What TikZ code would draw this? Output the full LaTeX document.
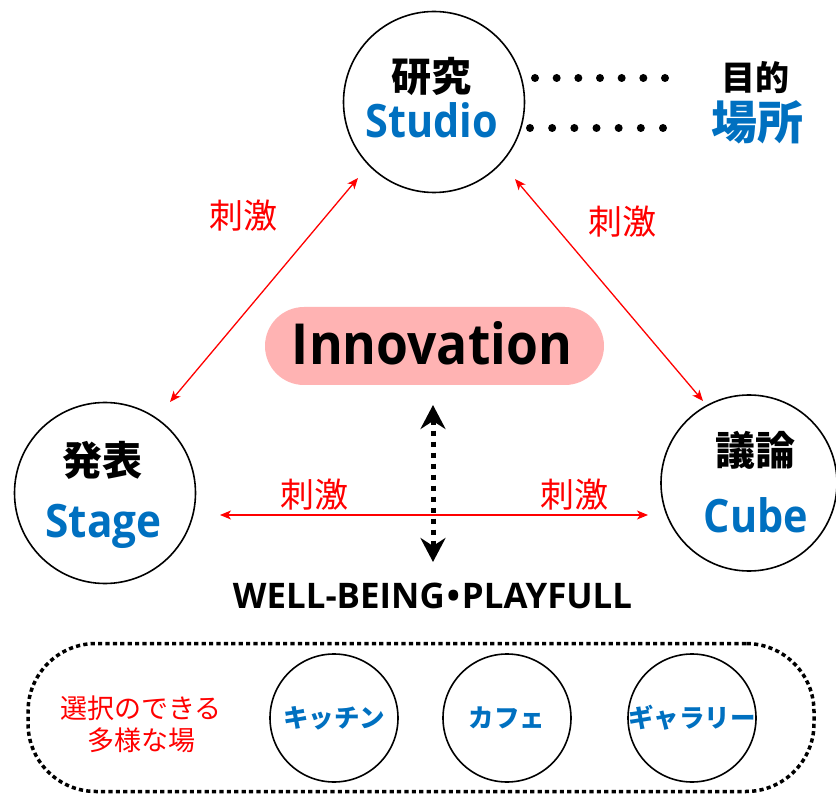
\documentclass[tikz,border=0pt]{standalone}
\usepackage{fontspec}
\usepackage{graphicx}
\setmainfont{Open Sans}
\newfontfamily\jp{Noto Sans CJK JP}
\usetikzlibrary{arrows.meta}
\definecolor{mblue}{HTML}{0070C0}
\definecolor{mred}{HTML}{FF0000}
\definecolor{mpink}{HTML}{FFB3B3}
\begin{document}
\begin{tikzpicture}[x=1pt,y=-1pt,
  bigcirc/.style={draw, circle, line width=1.6pt, minimum size=181pt, inner sep=0pt},
  smallcirc/.style={draw, circle, line width=1.6pt, minimum size=128pt, inner sep=0pt},
  jptitle/.style={inner sep=0pt, font=\jp\bfseries\fontsize{40pt}{40pt}\selectfont},
  entitle/.style={inner sep=0pt, anchor=base, text=mblue, font=\bfseries\fontsize{46pt}{46pt}\selectfont},
  stim/.style={inner sep=0pt, text=mred, font=\jp\fontsize{34pt}{34pt}\selectfont},
  place/.style={inner sep=0pt, text=mblue, font=\jp\bfseries\fontsize{25.5pt}{25.5pt}\selectfont},
  redarrow/.style={draw=mred, line width=1.3pt, {Stealth[length=11pt,width=9pt,inset=3pt]}-{Stealth[length=11pt,width=9pt,inset=3pt]}},
  dotrow/.style={line width=8pt, line cap=round, dash pattern=on 0pt off 21.667pt},
]
\useasboundingbox (0,0) rectangle (836,794);

% main circles
\node[bigcirc] (studio) at (434,102) {};
\node[bigcirc] (stage) at (105,493) {};
\node[bigcirc, minimum size=176pt] (cube) at (749,483) {};

\node[jptitle] (kenkyu) at (431,76) {研究};
\node[entitle] (studiot) at (432,138) {\scalebox{0.9}[1]{Studio}};
\node[jptitle] (happyo) at (102,460) {発表};
\node[entitle] (staget) at (103.5,537) {\scalebox{0.92}[1]{Stage}};
\node[jptitle] (giron) at (755,450) {議論};
\node[entitle] (cubet) at (756,532) {\scalebox{0.9}[1]{Cube}};

% purpose / place
\node[inner sep=0pt, font=\jp\bfseries\fontsize{34pt}{34pt}\selectfont] (mokuteki) at (755,78) {目的};
\node[inner sep=0pt, text=mblue, font=\jp\bfseries\fontsize{46pt}{46pt}\selectfont] (basho) at (757,122) {場所};
\coordinate (e1) at (535,78); \coordinate (e2) at (665.2,78);
\coordinate (f1) at (530,128); \coordinate (f2) at (663.2,128);
\draw[dotrow, dash pattern=on 0pt off 21.667pt] (e1) -- (e2);
\draw[dotrow, dash pattern=on 0pt off 22.167pt] (f1) -- (f2);

% red stimulus arrows
\coordinate (a1) at (358,178); \coordinate (a2) at (170,402);
\coordinate (b1) at (515,179); \coordinate (b2) at (703,401);
\coordinate (c1) at (220,515); \coordinate (c2) at (648,515);
\draw[redarrow] (a1) -- (a2);
\draw[redarrow] (b1) -- (b2);
\draw[redarrow] (c1) -- (c2);
\node[stim] (s1) at (243,216) {刺激};
\node[stim] (s2) at (622,222) {刺激};
\node[stim] (s3) at (314,495) {刺激};
\node[stim] (s4) at (574,495) {刺激};

% innovation
\node[fill=mpink, rounded corners=39pt, minimum width=339pt, minimum height=78pt, inner sep=0pt] (innov) at (434.5,346) {};
\node[inner sep=0pt, anchor=base, font=\bfseries] (innovt) at (432,365) {\resizebox{280pt}{43pt}{Innovation}};

% dotted vertical arrow
\coordinate (d1) at (433,405); \coordinate (d2) at (433,562);
\draw[line width=5pt, dash pattern=on 5.5pt off 5.5pt, {Stealth[length=24pt,width=25pt,inset=8pt]}-{Stealth[length=24pt,width=25pt,inset=8pt]}] (d1) -- (d2);

\node[inner sep=0pt, anchor=base, font=\bfseries] (wb) at (432.5,608) {\resizebox{399pt}{25.5pt}{WELL-BEING\kern0.06em•\kern0.06em PLAYFULL}};

% bottom group
\node[draw, line width=3.5pt, dash pattern=on 4.2pt off 3.2pt, rounded corners=68pt, minimum width=786pt, minimum height=148pt, inner sep=0pt] (group) at (421,717.5) {};
\node[inner sep=0pt, align=center, text=mred, font=\jp\fontsize{27pt}{32pt}\selectfont] (choice) at (141,724) {選択のできる\\多様な場};
\node[smallcirc] (kitchen) at (334,718) {};
\node[smallcirc] (cafe) at (507,718) {};
\node[smallcirc] (gallery) at (692,718) {};
\node[place] (kitchent) at (334,718) {キッチン};
\node[place] (cafet) at (507,718) {カフェ};
\node[place] (galleryt) at (692,718) {ギャラリー};
\end{tikzpicture}
\end{document}
